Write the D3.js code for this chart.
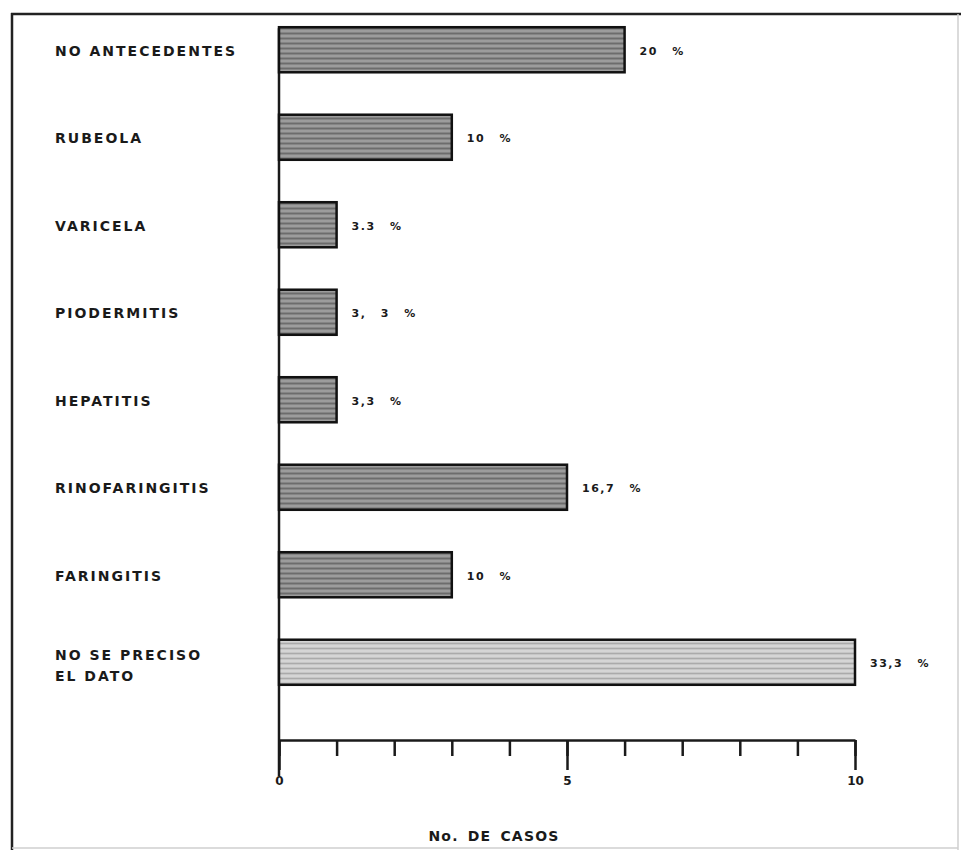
<!DOCTYPE html>
<html>
<head>
<meta charset="utf-8">
<script src="https://cdn.jsdelivr.net/npm/d3@7"></script>
<style>
  body { margin: 0; background: #fff; }
  svg { display: block; }
  .cat { font-family: "DejaVu Sans", sans-serif; font-weight: bold; font-size: 14px; letter-spacing: 2px; fill: #1a1a1a; }
  .pct { font-family: "DejaVu Sans", sans-serif; font-weight: bold; font-size: 11px; letter-spacing: 1.5px; word-spacing: 9px; fill: #1a1a1a; }
  .axis text { font-family: "DejaVu Sans", sans-serif; font-weight: bold; font-size: 12px; fill: #1a1a1a; }
  .axis line, .axis path { stroke: #1a1a1a; stroke-width: 2.5px; }
  .title { font-family: "DejaVu Sans", sans-serif; font-weight: bold; font-size: 14px; letter-spacing: 1.2px; word-spacing: 3px; fill: #1a1a1a; }
</style>
</head>
<body>
<svg id="chart" width="961" height="850"></svg>
<script>
// data
const categories = [
  "NO ANTECEDENTES", "RUBEOLA", "VARICELA", "PIODERMITIS",
  "HEPATITIS", "RINOFARINGITIS", "FARINGITIS", "NO SE PRECISO|EL DATO"
];
const casos = [6, 3, 1, 1, 1, 5, 3, 10];
const porcentajes = ["20 %", "10 %", "3.3 %", "3, 3 %", "3,3 %", "16,7 %", "10 %", "33,3 %"];
const majorTicks = [0, 5, 10];
const minorTicks = d3.range(0, 11);
const axisTitle = "No. DE CASOS";

const rows = categories.map((c, i) => ({ cat: c, n: casos[i], pct: porcentajes[i] }));

const svg = d3.select("#chart");

// hatched grey fills, the last bar is printed lighter
const defs = svg.append("defs");
function stripes(id, base, light, dark) {
  const p = defs.append("pattern").attr("id", id)
    .attr("patternUnits", "userSpaceOnUse").attr("width", 40).attr("height", 5);
  p.append("rect").attr("width", 40).attr("height", 5).attr("fill", base);
  p.append("line").attr("x1", 0).attr("x2", 40).attr("y1", 1).attr("y2", 1)
    .attr("stroke", light).attr("stroke-width", 1);
  p.append("line").attr("x1", 0).attr("x2", 40).attr("y1", 3.5).attr("y2", 3.5)
    .attr("stroke", dark).attr("stroke-width", 1);
}
stripes("darkFill", "#858585", "#b4b4b4", "#6c6c6c");
stripes("lightFill", "#c6c6c6", "#e4e4e4", "#aaaaaa");

// frame of the scan
svg.append("line").attr("x1", 12).attr("x2", 12).attr("y1", 13).attr("y2", 850)
  .attr("stroke", "#222").attr("stroke-width", 2.5);
svg.append("line").attr("x1", 11).attr("x2", 961).attr("y1", 14).attr("y2", 14)
  .attr("stroke", "#222").attr("stroke-width", 2.5);
svg.append("line").attr("x1", 958).attr("x2", 958).attr("y1", 14).attr("y2", 850)
  .attr("stroke", "#cfcfcf").attr("stroke-width", 1.5);
svg.append("line").attr("x1", 12).attr("x2", 958).attr("y1", 848).attr("y2", 848)
  .attr("stroke", "#cfcfcf").attr("stroke-width", 1.5);

const x = d3.scaleLinear().domain([0, 10]).range([279, 855]);
const y = d3.scaleBand().domain(categories).range([6, 706])
  .paddingInner(0.485).paddingOuter(0.2425);

const baseY = 740;

// vertical reference line at zero
svg.append("line")
  .attr("x1", x(0)).attr("x2", x(0))
  .attr("y1", y(categories[0]) + 1).attr("y2", 776)
  .attr("stroke", "#1a1a1a").attr("stroke-width", 2.5);

// minor ticks
svg.append("g").attr("class", "axis")
  .attr("transform", `translate(0,${baseY})`)
  .call(d3.axisBottom(x).tickValues(minorTicks).tickSize(16).tickSizeOuter(0).tickFormat(""));

// major ticks with labels
const major = svg.append("g").attr("class", "axis")
  .attr("transform", `translate(0,${baseY})`)
  .call(d3.axisBottom(x).tickValues(majorTicks).tickSize(30).tickSizeOuter(0).tickPadding(6));
major.select(".domain").remove();

svg.append("text").attr("class", "title")
  .attr("x", 494).attr("y", 841).attr("text-anchor", "middle")
  .text(axisTitle);

// bars
svg.append("g").selectAll("rect").data(rows).join("rect")
  .attr("x", x(0))
  .attr("y", d => y(d.cat))
  .attr("width", d => x(d.n) - x(0))
  .attr("height", y.bandwidth())
  .attr("fill", (d, i) => i === rows.length - 1 ? "url(#lightFill)" : "url(#darkFill)")
  .attr("stroke", "#111").attr("stroke-width", 2.5);

// category labels
const cats = svg.append("g").selectAll("text").data(rows).join("text")
  .attr("class", "cat")
  .attr("x", 55)
  .attr("y", d => y(d.cat) + y.bandwidth() / 2 + 6);
cats.each(function (d) {
  const parts = d.cat.split("|");
  const t = d3.select(this);
  if (parts.length === 1) { t.text(parts[0]); return; }
  t.attr("y", y(d.cat) + y.bandwidth() / 2 - 2);
  parts.forEach((p, k) => t.append("tspan").attr("x", 55).attr("dy", k ? 21 : 0).text(p));
});

// percentage labels
svg.append("g").selectAll("text").data(rows).join("text")
  .attr("class", "pct")
  .attr("x", d => x(d.n) + 15)
  .attr("y", d => y(d.cat) + y.bandwidth() / 2 + 5)
  .text(d => d.pct);
</script>
</body>
</html>
